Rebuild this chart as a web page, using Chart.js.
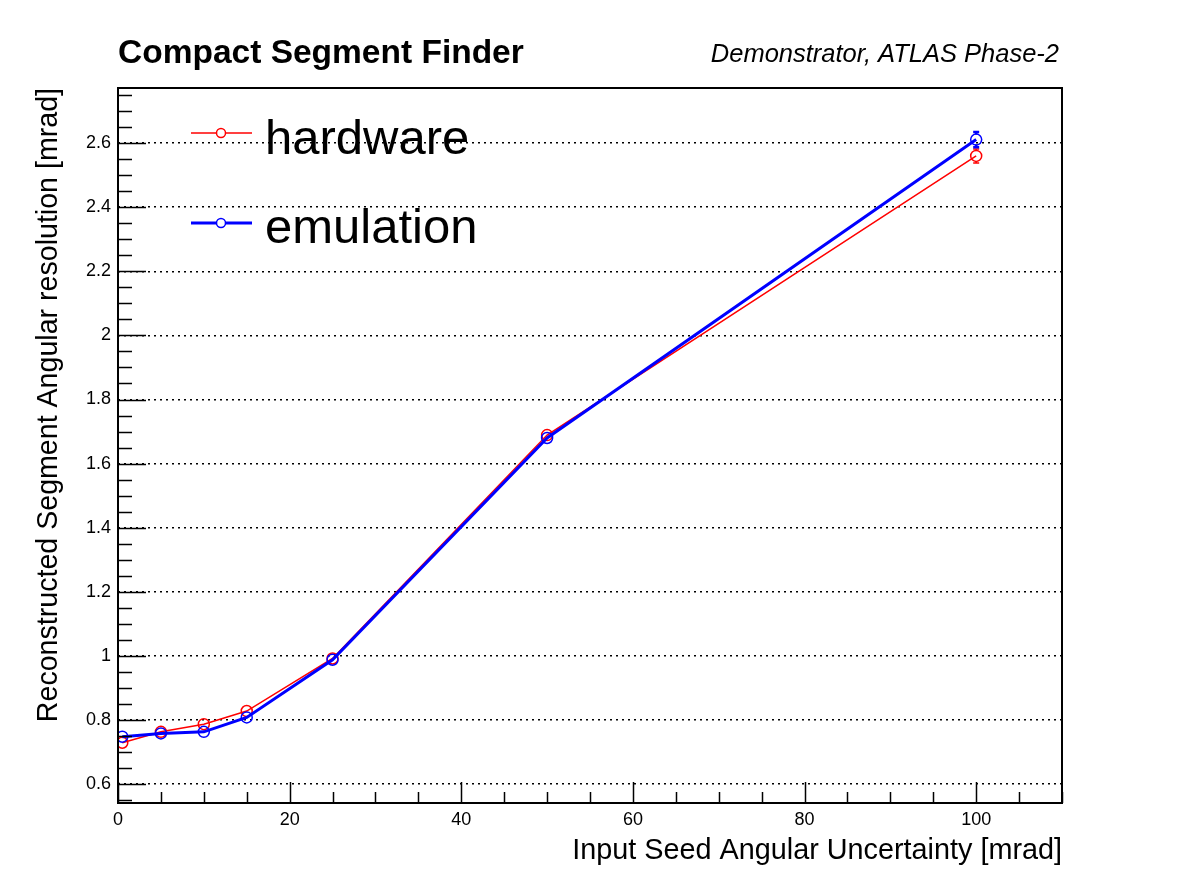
<!DOCTYPE html>
<html>
<head>
<meta charset="utf-8">
<title>Compact Segment Finder</title>
<script src="https://cdn.jsdelivr.net/npm/chart.js@4/dist/chart.umd.min.js"></script>
<style>
  html, body { margin: 0; padding: 0; background: #fff; }
  #wrap { width: 1182px; height: 894px; }
</style>
</head>
<body>
<div id="wrap"><canvas id="csfChart" width="1182" height="894"></canvas></div>
<script>
// seed uncertainty [mrad]
const seedUncertainty = [0.5, 5, 10, 15, 25, 50, 100];
const hardwareRes = [0.729, 0.763, 0.787, 0.828, 0.992, 1.689, 2.560];
const hardwareErr = [0.005, 0.005, 0.005, 0.006, 0.007, 0.012, 0.022];
const emulationRes = [0.748, 0.758, 0.763, 0.808, 0.988, 1.680, 2.611];
const emulationErr = [0.005, 0.005, 0.005, 0.006, 0.007, 0.012, 0.024];

const xTickValues = [0, 20, 40, 60, 80, 100];
const yTickValues = [0.6, 0.8, 1.0, 1.2, 1.4, 1.6, 1.8, 2.0, 2.2, 2.4, 2.6];
const yTickLabels = ["0.6", "0.8", "1", "1.2", "1.4", "1.6", "1.8", "2", "2.2", "2.4", "2.6"];

const FONT = "'Liberation Sans', Arial, Helvetica, sans-serif";

function toPoints(xs, ys) {
    return xs.map((x, i) => ({ x: x, y: ys[i] }));
}

// ROOT style frame, inward ticks, error bars, titles and legend
const rootDecor = {
    id: "rootDecor",
    afterDatasetsDraw(chart) {
        const ctx = chart.ctx;
        const area = chart.chartArea;
        const xs = chart.scales.x;
        const ys = chart.scales.y;

        // error bars
        const drawErr = (vals, errs, color, lw) => {
            ctx.save();
            ctx.strokeStyle = color;
            ctx.lineWidth = lw;
            vals.forEach((v, i) => {
                const px = xs.getPixelForValue(seedUncertainty[i]);
                const pTop = ys.getPixelForValue(v + errs[i]);
                const pBot = ys.getPixelForValue(v - errs[i]);
                const pMid = ys.getPixelForValue(v);
                const r = 5;
                if (pMid - pTop > r) {
                    ctx.beginPath();
                    ctx.moveTo(px, pMid - r); ctx.lineTo(px, pTop);
                    ctx.moveTo(px - 3, pTop); ctx.lineTo(px + 3, pTop);
                    ctx.stroke();
                }
                if (pBot - pMid > r) {
                    ctx.beginPath();
                    ctx.moveTo(px, pMid + r); ctx.lineTo(px, pBot);
                    ctx.moveTo(px - 3, pBot); ctx.lineTo(px + 3, pBot);
                    ctx.stroke();
                }
            });
            ctx.restore();
        };
        drawErr(hardwareRes, hardwareErr, "#ff0000", 1.5);
        drawErr(emulationRes, emulationErr, "#0000ff", 2.5);

        ctx.save();
        ctx.strokeStyle = "#000";
        ctx.lineWidth = 1.5;
        ctx.beginPath();
        // x ticks every 5, major every 20
        for (let v = 0; v <= 110; v += 5) {
            const px = Math.round(xs.getPixelForValue(v)) + 0.5;
            const len = v % 20 === 0 ? 21 : 11;
            ctx.moveTo(px, area.bottom);
            ctx.lineTo(px, area.bottom - len);
        }
        // y ticks every 0.05, major every 0.2
        for (let k = 11; k <= 55; k++) {
            const v = k * 0.05;
            const py = Math.round(ys.getPixelForValue(v)) + 0.5;
            const len = k % 4 === 0 ? 28 : 14;
            ctx.moveTo(area.left, py);
            ctx.lineTo(area.left + len, py);
        }
        ctx.stroke();
        ctx.lineWidth = 2;
        ctx.strokeRect(area.left, area.top, area.right - area.left, area.bottom - area.top);
        ctx.restore();

        // titles
        ctx.save();
        ctx.fillStyle = "#000";
        ctx.textBaseline = "alphabetic";
        ctx.font = "bold 33.5px " + FONT;
        ctx.textAlign = "left";
        ctx.fillText("Compact Segment Finder", 118, 63);
        ctx.font = "italic 25.5px " + FONT;
        ctx.textAlign = "right";
        ctx.fillText("Demonstrator, ATLAS Phase-2", 1059, 62);

        // legend
        const entries = [
            { text: "hardware", color: "#ff0000", lw: 1.5, y: 133, base: 154 },
            { text: "emulation", color: "#0000ff", lw: 3, y: 223, base: 243 }
        ];
        entries.forEach(e => {
            ctx.strokeStyle = e.color;
            ctx.lineWidth = e.lw;
            ctx.beginPath();
            ctx.moveTo(191, e.y); ctx.lineTo(252, e.y);
            ctx.stroke();
            ctx.lineWidth = 1.5;
            ctx.fillStyle = "#fff";
            ctx.beginPath();
            ctx.arc(221, e.y, 4.5, 0, Math.PI * 2);
            ctx.fill();
            ctx.stroke();
            ctx.fillStyle = "#000";
            ctx.font = "49px " + FONT;
            ctx.textAlign = "left";
            ctx.fillText(e.text, 265, e.base);
        });
        ctx.restore();
    }
};

const ctx = document.getElementById("csfChart").getContext("2d");
new Chart(ctx, {
    type: "line",
    data: {
        datasets: [
            {
                label: "hardware",
                data: toPoints(seedUncertainty, hardwareRes),
                borderColor: "#ff0000",
                borderWidth: 1.5,
                pointStyle: "circle",
                pointRadius: 5.5,
                pointBorderWidth: 1.5,
                pointBorderColor: "#ff0000",
                pointBackgroundColor: "rgba(0,0,0,0)",
                tension: 0,
                order: 2
            },
            {
                label: "emulation",
                data: toPoints(seedUncertainty, emulationRes),
                borderColor: "#0000ff",
                borderWidth: 3,
                pointStyle: "circle",
                pointRadius: 5.5,
                pointBorderWidth: 1.5,
                pointBorderColor: "#0000ff",
                pointBackgroundColor: "rgba(0,0,0,0)",
                tension: 0,
                order: 1
            }
        ]
    },
    options: {
        responsive: false,
        maintainAspectRatio: false,
        animation: false,
        devicePixelRatio: 1,
        layout: { padding: { top: 88, right: 120, left: 0, bottom: 0 } },
        plugins: {
            legend: { display: false },
            tooltip: { enabled: false },
            title: { display: false }
        },
        scales: {
            x: {
                type: "linear",
                position: "bottom",
                min: 0,
                max: 110,
                afterFit: s => { s.height = 91; },
                afterBuildTicks: s => { s.ticks = xTickValues.map(v => ({ value: v })); },
                grid: { display: false, drawTicks: false },
                border: { display: false },
                ticks: {
                    color: "#000",
                    font: { family: FONT, size: 18 },
                    padding: 6,
                    maxRotation: 0,
                    callback: v => String(v)
                },
                title: {
                    display: true,
                    text: "Input Seed Angular Uncertainty [mrad]",
                    align: "end",
                    color: "#000",
                    font: { family: FONT, size: 28.8 },
                    padding: { top: 0, bottom: 26 }
                }
            },
            y: {
                type: "linear",
                position: "left",
                min: 0.541,
                max: 2.772,
                afterFit: s => { s.width = 118; },
                afterBuildTicks: s => { s.ticks = yTickValues.map(v => ({ value: v })); },
                grid: {
                    display: true,
                    drawTicks: false,
                    color: "#000",
                    lineWidth: 1.5,
                    tickBorderDash: [2, 4]
                },
                border: { display: false, dash: [2, 4] },
                ticks: {
                    color: "#000",
                    font: { family: FONT, size: 18 },
                    padding: 7,
                    callback: (v, i) => yTickLabels[i]
                },
                title: {
                    display: true,
                    text: "Reconstructed Segment Angular resolution [mrad]",
                    align: "end",
                    color: "#000",
                    font: { family: FONT, size: 28.6 },
                    padding: { top: 32, bottom: 0 }
                }
            }
        }
    },
    plugins: [rootDecor]
});
</script>
</body>
</html>
